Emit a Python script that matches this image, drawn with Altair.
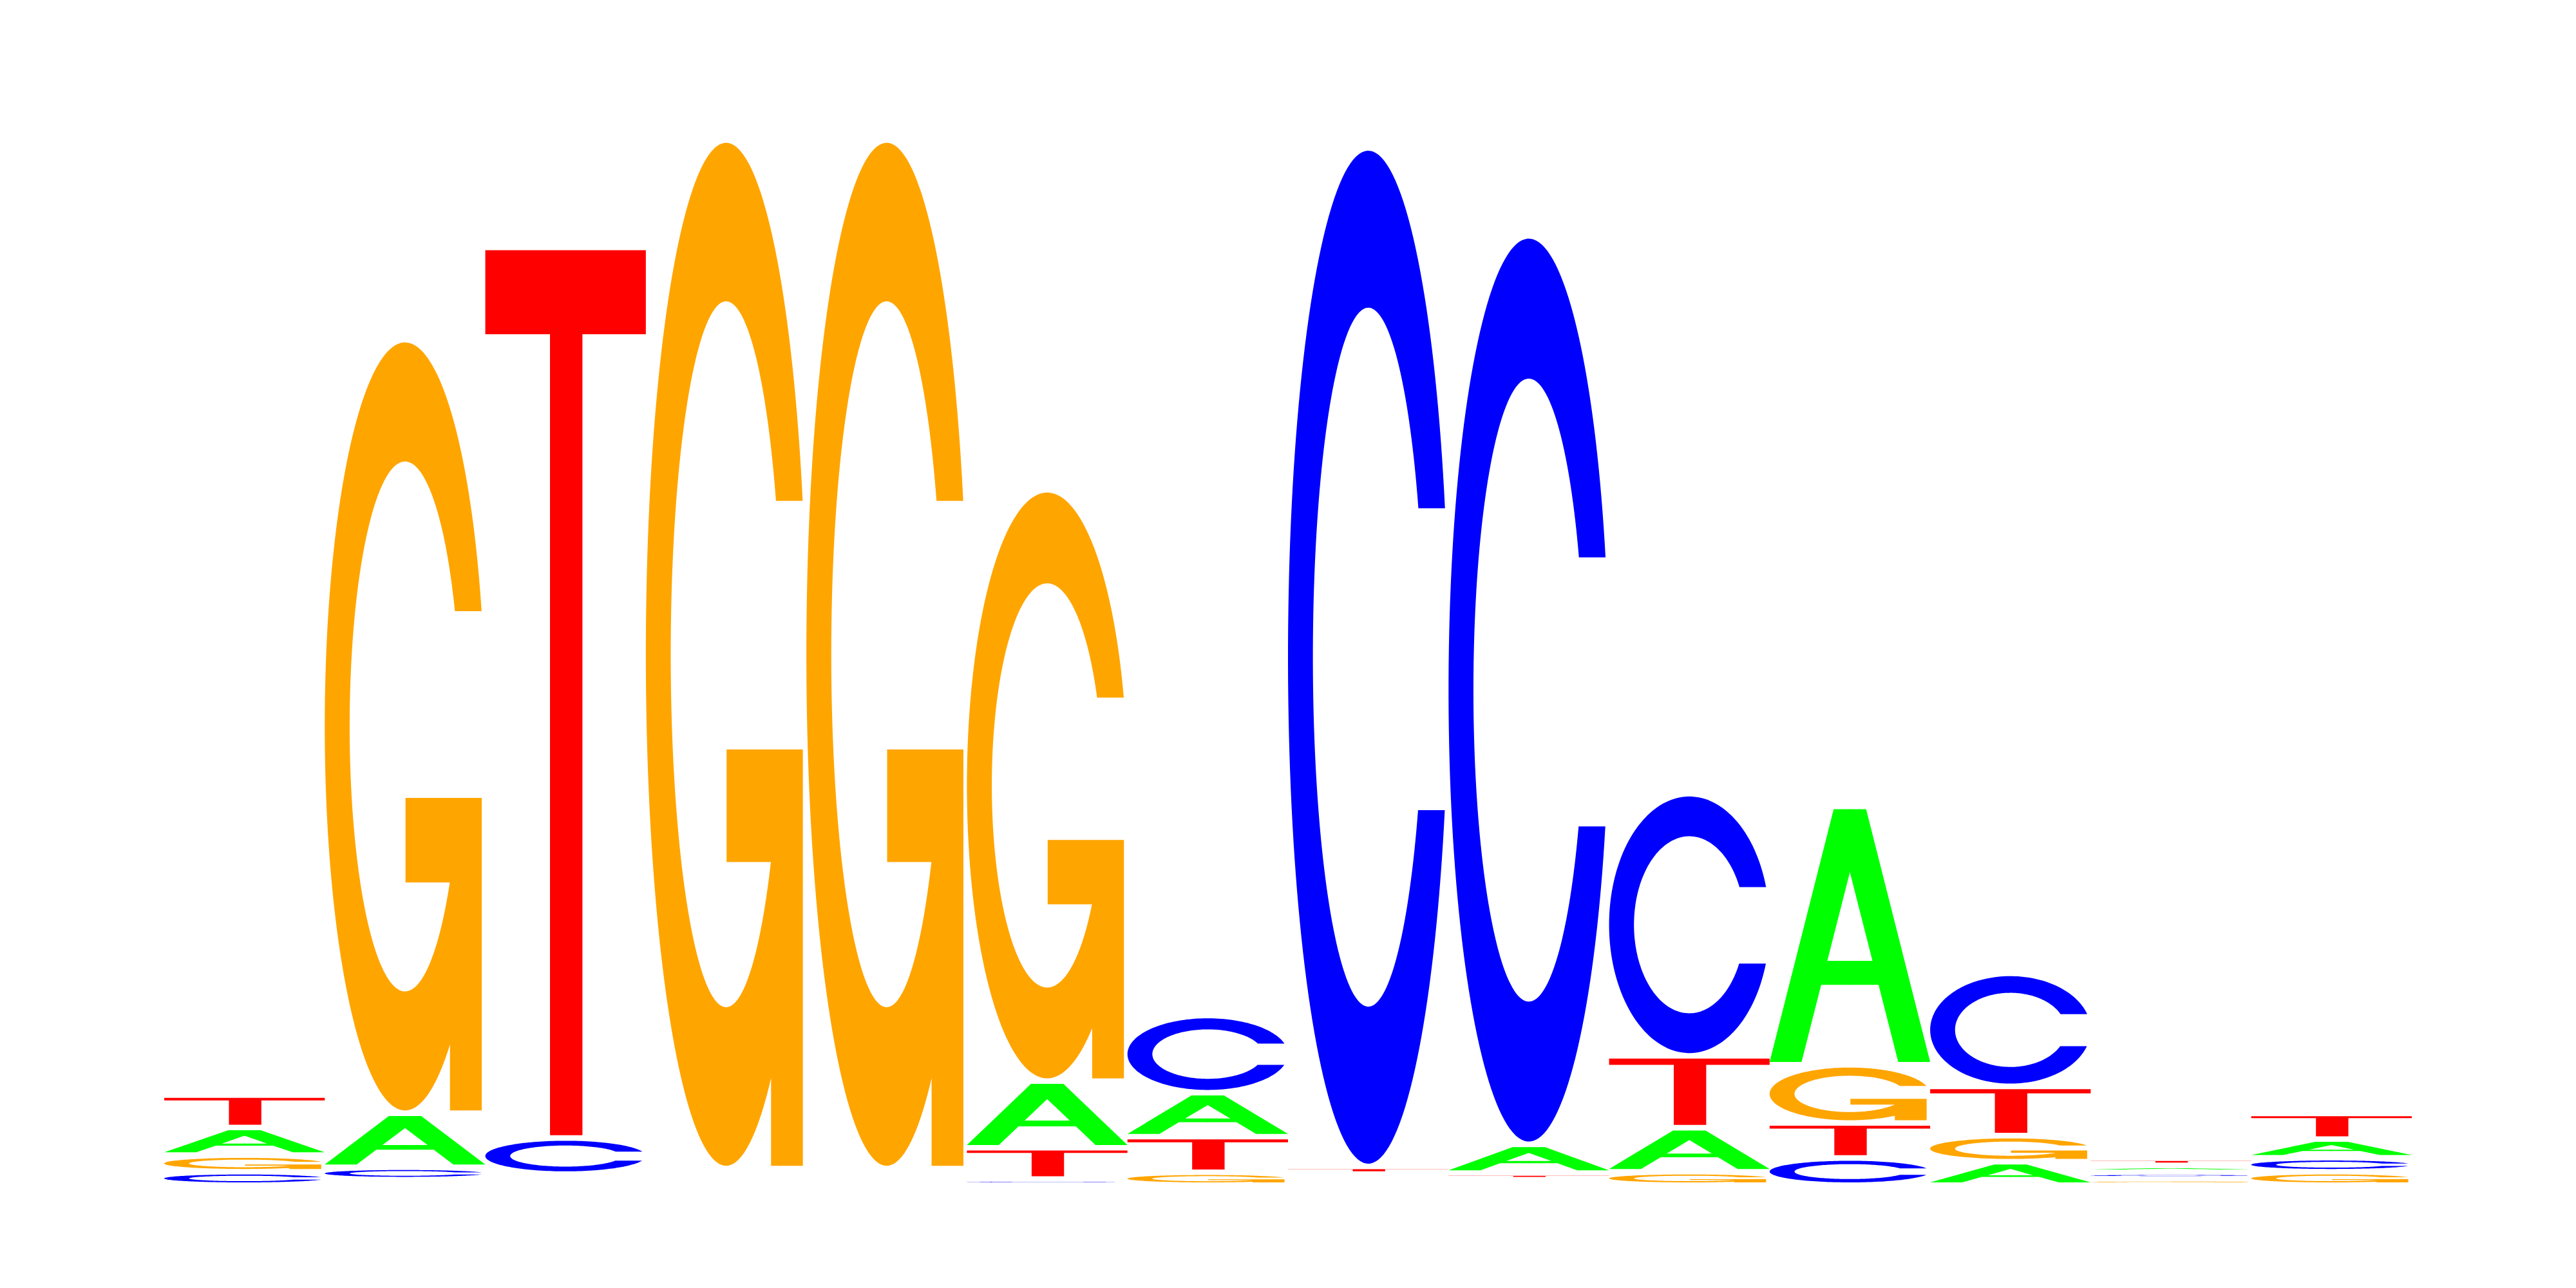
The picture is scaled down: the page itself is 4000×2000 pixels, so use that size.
import altair as alt
import numpy as np
import pandas as pd

# ---- data: letter heights (bits) at each of the 14 motif positions ----
positions = list(range(1, 15))
A_bits = [0.042, 0.092, 0.000, 0.000, 0.000, 0.116, 0.073, 0.000, 0.044, 0.073, 0.480, 0.034, 0.0025, 0.025]
C_bits = [0.015, 0.013, 0.058, 0.000, 0.000, 0.001, 0.136, 1.923, 1.714, 0.487, 0.041, 0.204, 0.0020, 0.016]
G_bits = [0.021, 1.458, 0.000, 1.942, 1.942, 1.112, 0.014, 0.000, 0.000, 0.015, 0.100, 0.039, 0.0015, 0.015]
T_bits = [0.051, 0.000, 1.680, 0.000, 0.000, 0.049, 0.057, 0.004, 0.002, 0.126, 0.056, 0.083, 0.0033, 0.038]

letters = ["A", "C", "G", "T"]
letter_colors = ["#00ff00", "#0000ff", "#ffa500", "#ff0000"]

# ---- glyph templates in a unit box (u: 0..1 left->right, v: 0..1 bottom->top) ----
GAP = 0.0105  # vertical spacing between stacked letters (bits)
N_ARC = 160


def arc(cx, cy, rx, ry, a0, a1, n=N_ARC):
    t = np.radians(np.linspace(a0, a1, n))
    return [(cx + rx * np.cos(a), cy + ry * np.sin(a)) for a in t]


def glyph_T():
    b = 0.095
    return [[(0, 1), (1, 1), (1, 1 - b), (0.605, 1 - b), (0.605, 0),
             (0.403, 0), (0.403, 1 - b), (0, 1 - b)]]


def glyph_A():
    apex_v = 0.751
    leg = 0.199

    def inner_u(v):
        return leg + (0.5 - leg) * (v / apex_v)

    e = 0.003
    left = [(0, 0), (0.399, 1), (0.5 + e, 1), (0.5 + e, apex_v), (0.5, apex_v),
            (inner_u(0.40), 0.40), (0.5 + e, 0.40), (0.5 + e, 0.305),
            (inner_u(0.305), 0.305), (leg, 0)]
    right = [(1 - u, v) for (u, v) in left]
    return [left, right]


def glyph_C():
    ro, ri = 0.5, 0.345
    vu, vl = 0.647, 0.349
    th_u = np.degrees(np.arcsin((vu - 0.5) / ro))
    th_l = np.degrees(np.arcsin((vl - 0.5) / ro))
    ph_u = np.degrees(np.arcsin((vu - 0.5) / ri))
    ph_l = np.degrees(np.arcsin((vl - 0.5) / ri))
    pts = arc(0.5, 0.5, ro, ro, th_u, 360 + th_l)
    pts += arc(0.5, 0.5, ri, ri, 360 + ph_l, ph_u)
    return [pts]


def glyph_G():
    ro, ri = 0.5, 0.345
    vu = 0.65
    stem_l, right = 0.78, 0.978
    bar_top, bar_bot, bar_l = 0.407, 0.297, 0.503
    th_u = np.degrees(np.arcsin((vu - 0.5) / ro))
    th_s = 360 - np.degrees(np.arccos((stem_l - 0.5) / ro))
    ph_u = np.degrees(np.arcsin((vu - 0.5) / ri))
    ph_b = 360 + np.degrees(np.arcsin((bar_bot - 0.5) / ri))
    pts = arc(0.5, 0.5, ro, ro, th_u, th_s)
    pts += [(stem_l, 0), (right, 0), (right, bar_top), (bar_l, bar_top), (bar_l, bar_bot)]
    pts += arc(0.5, 0.5, ri, ri, ph_b, ph_u)
    return [pts]


glyphs = {"A": glyph_A(), "C": glyph_C(), "G": glyph_G(), "T": glyph_T()}

# ---- build polygon rows from the data arrays ----
rows = []
heights = {"A": A_bits, "C": C_bits, "G": G_bits, "T": T_bits}
for i, pos in enumerate(positions):
    col = sorted([(heights[L][i], L) for L in letters], key=lambda t: t[0])
    y0 = 0.0
    for h, L in col:
        if h > 0:
            for pi, poly in enumerate(glyphs[L]):
                for k, (u, v) in enumerate(poly):
                    rows.append({"poly": f"{pos}-{L}-{pi}", "letter": L, "k": k,
                                 "x": pos - 0.5 + u, "y": y0 + v * h})
        y0 += h + GAP

df = pd.DataFrame(rows)

chart = alt.Chart(df).mark_line(filled=True, strokeWidth=0, interpolate="linear").encode(
    x=alt.X("x:Q", scale=alt.Scale(domain=[0.5, 14.5], nice=False, zero=False), axis=None),
    y=alt.Y("y:Q", scale=alt.Scale(domain=[0, 2], nice=False, zero=False), axis=None),
    color=alt.Color("letter:N", scale=alt.Scale(domain=letters, range=letter_colors), legend=None),
    detail="poly:N",
    order=alt.Order("k:Q"),
).properties(
    width=3490, height=1636,
    padding={"left": 247, "top": 192, "right": 0, "bottom": 0},
    autosize="none",
).configure_view(strokeWidth=0)

chart.save("out.html", embed_options={"renderer": "svg", "actions": False})
